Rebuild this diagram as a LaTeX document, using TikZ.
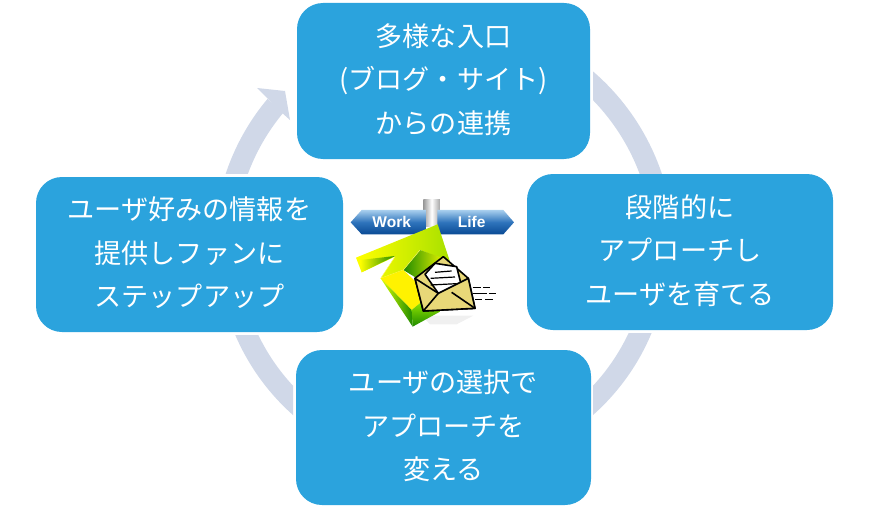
\documentclass[tikz,border=0pt]{standalone}
\usepackage{fontspec}
\setmainfont{Noto Sans CJK JP}
\newfontfamily\latinb{Liberation Sans}
\usetikzlibrary{calc}
\definecolor{boxblue}{HTML}{2BA3DD}
\definecolor{ringc}{HTML}{D0D8E8}
\definecolor{envc}{HTML}{E8D878}
\definecolor{boardtop}{HTML}{A8CFEE}
\definecolor{boardmid}{HTML}{2F74BC}
\definecolor{boardbot}{HTML}{0A4A94}
\definecolor{leaf}{HTML}{A8E000}
\definecolor{deep}{HTML}{1F8A00}
\newcommand{\liftup}{\rule[-5pt]{0pt}{0pt}}
\tikzset{
  card/.style={fill=boxblue,rounded corners=26pt,text=white,align=center,inner sep=0pt,
    font=\fontsize{27.1pt}{43.5pt}\selectfont},
  ringarc/.style={draw=ringc,line width=21pt,line cap=butt},
  ringhead/.style={fill=ringc},
  signtxt/.style={text=white,font=\latinb\bfseries\fontsize{15.5pt}{15.5pt}\selectfont,inner sep=0pt},
  ink/.style={draw=black,line width=1.6pt,line join=round},
  board/.style={top color=boardtop,bottom color=boardbot,middle color=boardmid},
}
\begin{document}
\begin{tikzpicture}[x=1pt,y=1pt]
\useasboundingbox (0,0) rectangle (885,-508);
\coordinate (ctr) at (443,-246);
\coordinate (ctrb) at (441,-248);
% ring
\begin{scope}
  \clip (200,-60) rectangle (300,-173);
  \draw[ringarc] ($(ctr)+(175:218.5pt)$) arc[start angle=175,end angle=140,radius=218.5pt];
\end{scope}
\fill[ringhead] (257,-88) -- (285,-91) -- (290,-120) -- (281,-112) -- (265,-96) -- cycle;
\begin{scope}
  \clip (593,-40) rectangle (700,-173);
  \draw[ringarc] ($(ctrb)+(65:222.5pt)$) arc[start angle=65,end angle=5,radius=222.5pt];
\end{scope}
\begin{scope}
  \clip (593,-333) rectangle (700,-450);
  \draw[ringarc] ($(ctr)+(-5:215.5pt)$) arc[start angle=-5,end angle=-65,radius=215.5pt];
\end{scope}
\begin{scope}
  \clip (293,-335) rectangle (200,-450);
  \draw[ringarc] ($(ctr)+(-115:215.5pt)$) arc[start angle=-115,end angle=-175,radius=215.5pt];
\end{scope}
% boxes
\node[card,minimum width=293pt,minimum height=156pt] (top) at (443.5,-81) {多様な入口\\(ブログ・サイト)\\からの連携\liftup};
\node[card,minimum width=306pt,minimum height=156pt] (right) at (680,-252) {段階的に\\アプローチし\\ユーザを育てる\liftup};
\node[card,minimum width=295pt,minimum height=155pt] (bottom) at (443.5,-427.5) {ユーザの選択で\\アプローチを\\変える\liftup};
\node[card,minimum width=307pt,minimum height=155pt] (left) at (189.5,-254.5) {ユーザ好みの情報を\\提供しファンに\\ステップアップ\liftup};
% icon
\begin{scope}[shift={(340,-185)},x=0.3333pt,y=-0.3333pt]
  % reflection
  \fill[gray!12] (245,392) -- (400,392) -- (350,418) -- (270,418) -- cycle;
  % pole
  \shade[left color=gray!80,right color=gray!70,middle color=white] (250,45) rectangle (300,125);
  % boards
  \shade[board] (32,112) -- (65,75) -- (258,75) -- (258,148) -- (65,148) -- cycle;
  \shade[board] (292,75) -- (490,75) -- (522,112) -- (490,148) -- (292,148) -- cycle;
  \node[signtxt] (work) at (155,110) {Work};
  \node[signtxt] (life) at (395,110) {Life};
  % green arrow: back plate
  \shade[left color=yellow,right color=leaf] (293,118) -- (330,230) -- (240,195) -- (190,255) -- (122,280) -- (165,215) -- (65,262) -- (48,218) -- cycle;
  % dark facet at left
  \shade[left color=yellow,right color=deep] (60,225) -- (165,213) -- (65,262) -- cycle;
  % hollow facet
  \shade[left color=deep,right color=yellow] (240,195) -- (325,225) -- (280,310) -- (190,255) -- cycle;
  \draw[yellow!60!white,line width=0.5pt] (240,195) -- (190,255) -- (122,280) (165,215) -- (122,280);
  % lower body
  \fill[yellow] (122,280) -- (190,255) -- (270,330) -- (215,375) -- cycle;
  \shade[left color=yellow!85!green,right color=deep] (122,280) -- (215,375) -- (218,425) -- cycle;
  \shade[top color=yellow!70!green,bottom color=deep] (215,375) -- (270,330) -- (300,380) -- (218,425) -- cycle;
  % envelope back
  \fill[envc,ink] (225,280) -- (310,215) -- (385,280) -- (405,370) -- (250,378) -- cycle;
  % paper
  \fill[white,ink] (255,268) -- (285,235) -- (350,245) -- (365,305) -- (295,325) -- cycle;
  \draw[ink,line width=1.2pt] (285,262) -- (335,258) (272,280) -- (345,276) (272,300) -- (350,296);
  % envelope front
  \fill[envc,ink] (225,280) -- (295,325) -- (385,280) -- (405,370) -- (250,378) -- cycle;
  \draw[ink] (250,378) -- (295,325) (405,370) -- (335,322);
  % speed lines
  \draw[line width=1.2pt] (398,307) -- (422,307) (430,307) -- (450,307)
     (398,325) -- (440,325) (447,325) -- (468,325)
     (405,344) -- (425,344) (436,344) -- (458,344);
\end{scope}
\end{tikzpicture}
\end{document}
